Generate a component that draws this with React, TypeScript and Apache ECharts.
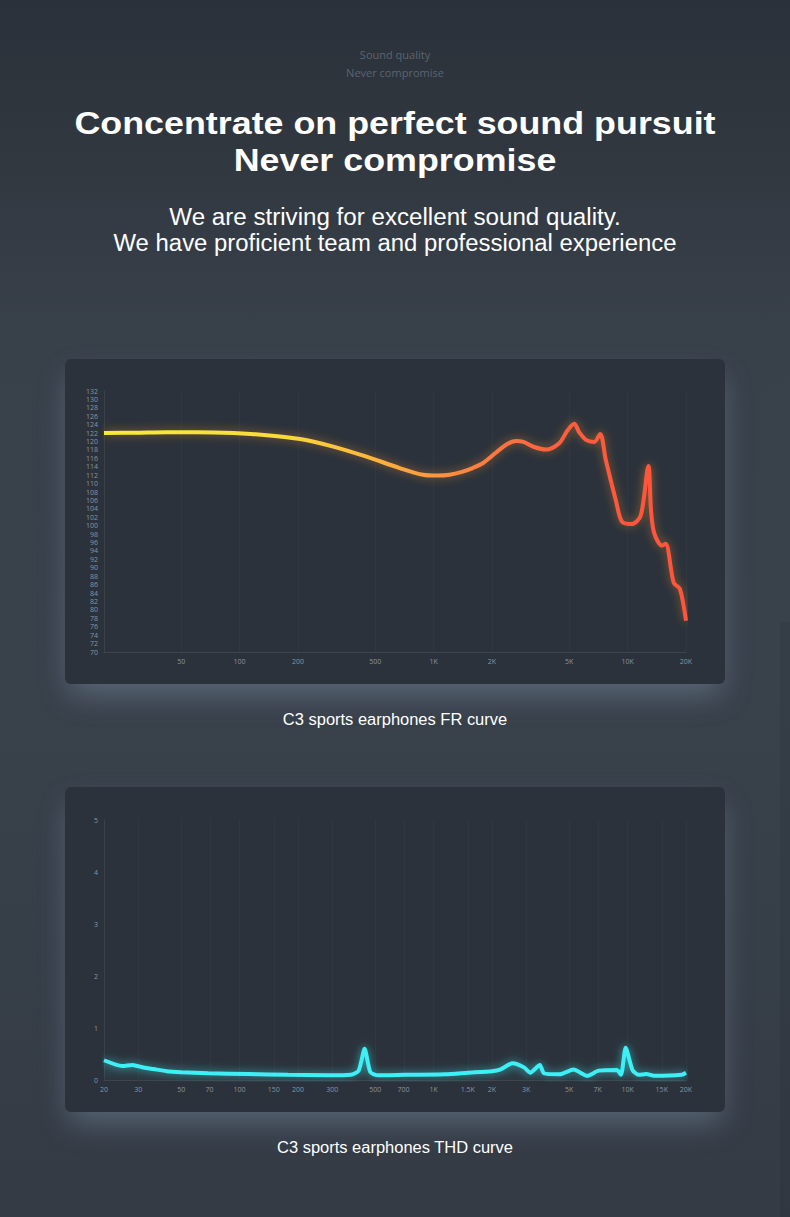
import { useEffect, useRef } from "react";
import * as echarts from "echarts";

// ---------- data ----------
const frFreq = [20, 30, 42, 60, 93, 138, 205, 304, 451, 669, 881, 1050, 1210, 1400, 1590, 1800, 2100, 2400, 2660, 2900, 3300, 3800, 4440, 4900, 5310, 5630, 6100, 6730, 7220, 7720, 8700, 9370, 10550, 11700, 12800, 13200, 13700, 15000, 15700, 17300, 18600, 20000];
const frDb = [122, 122.1, 122.2, 122.2, 122, 121.5, 120.6, 118.8, 116.4, 113.7, 112.1, 111.9, 112.1, 112.8, 113.7, 114.9, 117.4, 119.4, 120.1, 119.9, 118.7, 118.1, 119.6, 122.6, 124.2, 122.2, 120.4, 119.9, 121.8, 115.6, 106, 100.9, 100.4, 102.5, 114.2, 103.7, 98.3, 95.3, 95.7, 86.4, 85, 77.4];

const thdFreq = [20, 24.8, 28, 32, 36, 42, 50, 69, 111, 177, 282, 374, 411, 441, 472, 518, 718, 1150, 1500, 2000, 2200, 2550, 2930, 3150, 3530, 3700, 4470, 5260, 6200, 7100, 8800, 9250, 9770, 10600, 11400, 12500, 13700, 19000, 20000];
const thdPct = [0.38, 0.27, 0.29, 0.24, 0.21, 0.17, 0.15, 0.13, 0.115, 0.1, 0.09, 0.1, 0.18, 0.6, 0.15, 0.09, 0.1, 0.11, 0.14, 0.17, 0.2, 0.32, 0.24, 0.14, 0.29, 0.13, 0.11, 0.2, 0.08, 0.18, 0.19, 0.1, 0.62, 0.19, 0.1, 0.115, 0.08, 0.1, 0.14];

const frTickFreq = [50, 100, 200, 500, 1000, 2000, 5000, 10000, 20000];
const frTickLabel = ["50", "100", "200", "500", "1K", "2K", "5K", "10K", "20K"];
const thdTickFreq = [20, 30, 50, 70, 100, 150, 200, 300, 500, 700, 1000, 1500, 2000, 3000, 5000, 7000, 10000, 15000, 20000];
const thdTickLabel = ["20", "30", "50", "70", "100", "150", "200", "300", "500", "700", "1K", "1.5K", "2K", "3K", "5K", "7K", "10K", "15K", "20K"];

const headerLines = ["Sound quality", "Never compromise"];
const titleLines = ["Concentrate on perfect sound pursuit", "Never compromise"];
const subtitleLines = ["We are striving for excellent sound quality.", "We have proficient team and professional experience"];
const frCaption = "C3 sports earphones FR curve";
const thdCaption = "C3 sports earphones THD curve";

const lg = (v: number) => Math.log10(v);
const X_MIN = lg(20);
const X_MAX = lg(20000);
const AXIS_LABEL_COLOR = "#8a94a0";
const SANS = '"Liberation Sans", Arial, sans-serif';
const SMALL = '"Open Sans", "Noto Sans", sans-serif';

function xAxisFor(gridIndex: number, freqs: number[], labels: string[]) {
  const vals = freqs.map(lg);
  return {
    type: "value",
    gridIndex,
    min: X_MIN,
    max: X_MAX,
    z: 1,
    axisLine: { show: true, lineStyle: { color: "rgba(255,255,255,0.09)", width: 1 } },
    axisTick: { show: false, customValues: vals },
    splitLine: { show: false },
    axisLabel: {
      customValues: vals,
      color: AXIS_LABEL_COLOR,
      fontSize: 7,
      fontFamily: SMALL,
      margin: 6,
      formatter: (v: number) => {
        const i = vals.findIndex((t) => Math.abs(t - v) < 1e-6);
        return i >= 0 ? labels[i] : "";
      },
    },
  };
}

function yAxisFor(gridIndex: number, min: number, max: number, interval: number) {
  return {
    type: "value",
    gridIndex,
    min,
    max,
    interval,
    z: 1,
    axisLine: { show: true, lineStyle: { color: "rgba(255,255,255,0.07)", width: 1 } },
    axisTick: { show: false },
    splitLine: { show: false },
    axisLabel: { color: AXIS_LABEL_COLOR, fontSize: 7, fontFamily: SMALL, margin: 6 },
  };
}

function gridLines(freqs: number[]) {
  return {
    silent: true,
    symbol: ["none", "none"],
    label: { show: false },
    lineStyle: { color: "rgba(255,255,255,0.028)", type: "solid", width: 1 },
    data: freqs.map((f) => ({ xAxis: lg(f) })),
  };
}

function centeredText(text: string, y: number, font: string, fill: string, scaleX = 1) {
  return {
    type: "text",
    x: 395,
    y,
    z: 10,
    scaleX,
    style: {
      text,
      font,
      fill,
      align: "center",
      verticalAlign: "middle",
      textAlign: "center",
      textVerticalAlign: "middle",
    },
  };
}

export default function App() {
  const ref = useRef<HTMLDivElement>(null);

  useEffect(() => {
    if (!ref.current) return;
    const chart = echarts.init(ref.current, undefined, { renderer: "svg" });

    const frGradient = new echarts.graphic.LinearGradient(0, 0, 1, 0, [
      { offset: 0, color: "#f6ec3a" },
      { offset: 0.3, color: "#f8dc3b" },
      { offset: 0.45, color: "#fbb83d" },
      { offset: 0.57, color: "#fb9640" },
      { offset: 0.68, color: "#fd7440" },
      { offset: 0.8, color: "#ff5c3c" },
      { offset: 1, color: "#ff523a" },
    ]);

    chart.setOption({
      animation: false,
      backgroundColor: "transparent",
      grid: [
        { left: 104, top: 391, width: 582, height: 261 },
        { left: 104, top: 820, width: 582, height: 260 },
      ],
      xAxis: [xAxisFor(0, frTickFreq, frTickLabel), xAxisFor(1, thdTickFreq, thdTickLabel)],
      yAxis: [yAxisFor(0, 70, 132, 2), yAxisFor(1, 0, 5, 1)],
      series: [
        {
          type: "line",
          xAxisIndex: 0,
          yAxisIndex: 0,
          data: frFreq.map((f, i) => [lg(f), frDb[i]]),
          showSymbol: false,
          smooth: 0.3,
          z: 3,
          lineStyle: {
            width: 4,
            color: frGradient,
            shadowBlur: 10,
            shadowColor: "rgba(255,150,50,0.5)",
          },
          markLine: gridLines(frTickFreq),
        },
        {
          type: "line",
          xAxisIndex: 1,
          yAxisIndex: 1,
          data: thdFreq.map((f, i) => [lg(f), thdPct[i]]),
          showSymbol: false,
          smooth: 0.2,
          z: 3,
          lineStyle: {
            width: 4,
            color: "#3ef0f5",
            shadowBlur: 8,
            shadowColor: "rgba(60,240,245,0.6)",
          },
          areaStyle: {
            color: new echarts.graphic.LinearGradient(0, 0, 0, 1, [
              { offset: 0, color: "rgba(70,200,225,0.35)" },
              { offset: 1, color: "rgba(70,200,225,0.03)" },
            ]),
          },
          markLine: gridLines(thdTickFreq),
        },
      ],
      graphic: [
        centeredText(headerLines[0], 54, `11px ${SMALL}`, "#5a6471"),
        centeredText(headerLines[1], 72, `11px ${SMALL}`, "#5a6471"),
        centeredText(titleLines[0], 123, `bold 32px ${SANS}`, "#ffffff", 1.12),
        centeredText(titleLines[1], 160, `bold 32px ${SANS}`, "#ffffff", 1.12),
        centeredText(subtitleLines[0], 217, `23px ${SANS}`, "#ffffff", 1.05),
        centeredText(subtitleLines[1], 243, `23px ${SANS}`, "#ffffff", 1.04),
        centeredText(frCaption, 719, `16px ${SANS}`, "#ffffff", 1.03),
        centeredText(thdCaption, 1147, `16px ${SANS}`, "#ffffff", 1.03),
      ],
    });

    return () => chart.dispose();
  }, []);

  const panel = (top: number): React.CSSProperties => ({
    position: "absolute",
    left: 65,
    top,
    width: 660,
    height: 325,
    borderRadius: 6,
    background: "#2b323b",
    boxShadow: "0 14px 30px -4px rgba(140,160,185,0.42)",
  });

  return (
    <div
      style={{
        position: "absolute",
        left: 0,
        top: 0,
        width: 790,
        height: 1217,
        overflow: "hidden",
        background:
          "linear-gradient(180deg, #2b313a 0%, #30373f 12%, #38404a 27%, #39414b 55%, #363e48 80%, #343b45 100%)",
      }}
    >
      <div
        style={{
          position: "absolute",
          left: 780,
          top: 622,
          width: 10,
          height: 595,
          background: "rgba(0,0,0,0.06)",
        }}
      />
      <div style={panel(359)} />
      <div style={panel(787)} />
      <div ref={ref} style={{ position: "absolute", left: 0, top: 0, width: 790, height: 1217 }} />
    </div>
  );
}
